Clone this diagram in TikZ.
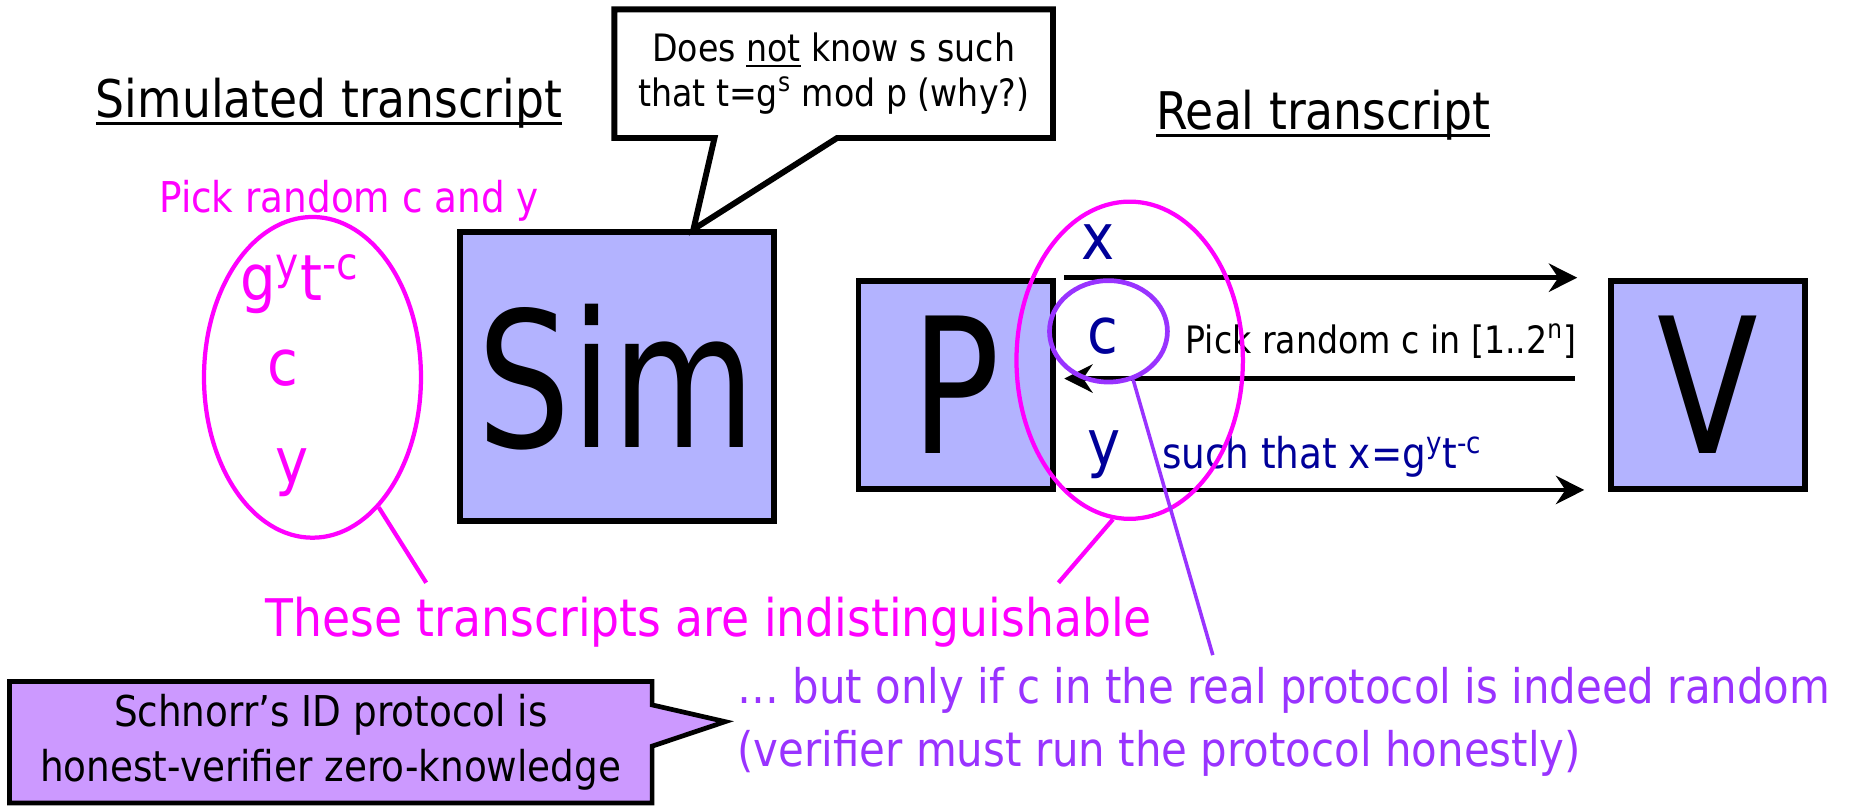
\documentclass[tikz,border=0pt]{standalone}
\usepackage{fontspec}
\setmainfont{DejaVu Sans}[FakeStretch=0.88]
\newfontfamily\bigfont{DejaVu Sans}[FakeStretch=0.78]
\usetikzlibrary{positioning}
\usetikzlibrary{calc}
\usetikzlibrary{shapes.geometric,shapes.callouts}
\usetikzlibrary{arrows.meta}
\definecolor{boxfill}{HTML}{B3B3FF}
\definecolor{notefill}{HTML}{CC99FF}
\definecolor{msgblue}{HTML}{000099}
\definecolor{chalpurple}{HTML}{9933FF}
\definecolor{hotpink}{RGB}{255,0,255}
\newcommand{\uln}[1]{\leavevmode\setbox0=\hbox{#1}\rlap{\vrule width\wd0 height -0.085em depth 0.14em}\box0\relax}
\tikzset{ring/.style={draw=hotpink,line width=1.8pt,ellipse,inner sep=0pt},pinkline/.style={draw=hotpink,line width=1.8pt}}

\begin{document}
\begin{tikzpicture}[x=0.5pt,y=0.5pt]
  \tikzstyle{party}=[draw,line width=2.5pt,fill=boxfill,inner sep=0pt,font=\bigfont\fontsize{80}{80}\selectfont]
  \tikzstyle{msg}=[draw,line width=2pt,-{Stealth[length=12pt,width=12pt,inset=4pt]}]
  \tikzstyle{big}=[font=\fontsize{27}{30}\selectfont,anchor=base]
  \tikzstyle{title}=[font=\fontsize{22}{26}\selectfont,anchor=base]
  \def\callw{2.5pt}

  \useasboundingbox (0,0) rectangle (1568,685);

  \node[title] (simtitle) at (279,585) {\uln{Simulated transcript}};
  \node[title] (realtitle) at (1122,575) {\uln{Real transcript}};

  \node[party,minimum width=133pt,minimum height=122.5pt] (sim) at (523,365.5) {Sim};
  \node[party,minimum width=82.5pt,minimum height=88.5pt] (P) at (810.5,358.5) {P};
  \node[party,minimum width=82.5pt,minimum height=88.5pt] (V) at (1448.5,358.5) {V};

  % speech bubble over Sim
  \coordinate (simtip) at ($(sim.north west)!0.74!(sim.north east)$);
  \node[draw,fill=white,line width=\callw,rectangle callout,callout absolute pointer={(simtip)},
    callout pointer width=52pt,minimum width=186pt,minimum height=54.5pt,align=center,
    font=\fontsize{16}{19}\selectfont] (doubt) at (707,622.5)
    {Does \uln{not} know s such\\that t=g\textsuperscript{s} mod p (why?)};

  % simulated side
  \node[title,text=hotpink,font=\fontsize{18}{22}\selectfont] (pick) at (296,505) {Pick random c and y};
  \node[ring,minimum width=92pt,minimum height=136pt] (simtr) at (265,365) {};
  \node[big,text=hotpink] (simx) at (254,430) {g\textsuperscript{y}t\textsuperscript{-c}};
  \node[big,text=hotpink] (simc) at (240,358) {c};
  \node[big,text=hotpink] (simy) at (248,275) {y};

  % real protocol
  \draw[msg] ([xshift=3.5pt]P.north east) -- ([xshift=-13pt]V.north west);
  \draw[msg] ([xshift=-14pt,yshift=2.75pt]V.west) -- ([xshift=3.5pt,yshift=2.75pt]P.east);
  \draw[msg] ([xshift=3.5pt,yshift=1pt]P.south east) -- ([xshift=-10pt,yshift=1pt]V.south west);
  \node[big,text=msgblue] (lx) at (931,465) {x};
  \node[big,text=msgblue] (lc) at (935,385) {c};
  \node[big,text=msgblue] (ly) at (936,290) {y};
  \node[anchor=base west,inner sep=0pt,font=\fontsize{16}{19}\selectfont] (pickc) at (1005,385) {Pick random c in [1..2\textsuperscript{n}]};
  \node[anchor=base west,inner sep=0pt,text=msgblue,font=\fontsize{18}{22}\selectfont] (resp) at (985,288) {such that x=g\textsuperscript{y}t\textsuperscript{-c}};

  \node[ring,minimum width=96pt,minimum height=134.5pt] (realtr) at (958,379.5) {};
  \node[draw=chalpurple,line width=2pt,ellipse,inner sep=0pt,minimum width=50pt,minimum height=43pt] (chal) at (940,404) {};

  % conclusions
  \node[title,text=hotpink,inner sep=2pt] (indist) at (601,145) {These transcripts are indistinguishable};
  \path[pinkline] (simtr.-63) -- ($(indist.north west)!0.185!(indist.north east)+(0,8)$);
  \path[pinkline] (realtr.-96) -- ($(indist.north west)!0.89!(indist.north east)+(0,8)$);

  \node[anchor=west,align=left,inner sep=0pt,text=chalpurple,font=\fontsize{20.2}{26.5}\selectfont] (caveat) at (625,73)
    {… but only if c in the real protocol is indeed random\\(verifier must run the protocol honestly)};
  \draw[chalpurple,line width=1.5pt] (chal.-63) -- ($(caveat.north west)!0.435!(caveat.north east)+(0,10)$);

  \node[draw,fill=notefill,line width=2pt,rectangle callout,callout absolute pointer={([xshift=-5pt]caveat.west)},
    callout pointer width=17.5pt,minimum width=272.5pt,minimum height=51.5pt,align=center,
    font=\fontsize{18}{23}\selectfont] (claim) at (280.5,55.5)
    {Schnorr’s ID protocol is\\honest-verifier zero-knowledge};
\end{tikzpicture}
\end{document}
